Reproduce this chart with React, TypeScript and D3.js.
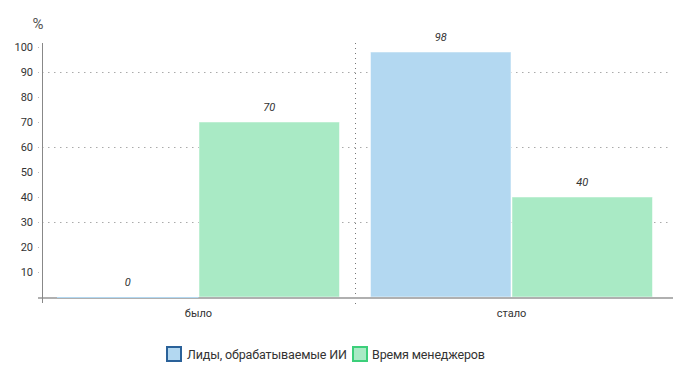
import React from "react";
import * as d3 from "d3";

const categories = ["было", "стало"];
const seriesNames = ["Лиды, обрабатываемые ИИ", "Время менеджеров"];
const leadsAI = [0, 98];
const managerTime = [70, 40];
const yTicks = [10, 20, 30, 40, 50, 60, 70, 80, 90, 100];
const gridTicks = [30, 60, 90];
const yUnit = "%";

const fills = ["#b3d8f1", "#a9eac5"];
const strokes = ["#2a6199", "#3ccf7a"];

export default function App() {
  const W = 700, H = 372;
  const left = 42, right = 668, top = 47, bottom = 297;
  const x0 = d3.scaleBand<string>().domain(categories).range([left, right]);
  const x1 = d3.scaleBand<string>().domain(seriesNames).range([15, x0.bandwidth() - 15]);
  const y = d3.scaleLinear().domain([0, 100]).range([bottom, top]);
  const values = [leadsAI, managerTime];
  const font = "Roboto, 'Noto Sans', sans-serif";

  return (
    <svg width={W} height={H} style={{ position: "absolute", left: 0, top: 0, background: "#fff" }} fontFamily={font}>
      {gridTicks.map((t) => (
        <line key={"g" + t} x1={left} x2={right} y1={Math.round(y(t)) + 0.5} y2={Math.round(y(t)) + 0.5}
          stroke="#aaa" strokeWidth={1} strokeDasharray="1.5,4.5" />
      ))}
      <line x1={x0("стало")! + 0.5} x2={x0("стало")! + 0.5} y1={top - 4} y2={bottom + 8}
        stroke="#777" strokeWidth={1} strokeDasharray="1,4" />
      {categories.map((c, ci) =>
        seriesNames.map((s, si) => {
          const v = values[si][ci];
          const bx = x0(c)! + x1(s)!;
          const bw = x1.bandwidth();
          return (
            <g key={c + s}>
              <rect x={bx + 0.5} y={y(v)} width={bw - 1} height={Math.max(0, bottom - y(v))}
                fill={fills[si]} stroke="#fff" strokeOpacity={0.5} strokeWidth={1} />
              <text x={bx + bw / 2} y={y(v) - 11} textAnchor="middle" fontSize={11}
                fontStyle="italic" fill="#333">{v}</text>
            </g>
          );
        })
      )}
      <line x1={left - 4} x2={right + 5} y1={bottom + 1} y2={bottom + 1} stroke="#b0b0b0" strokeWidth={2} />
      {zeroLine(x0, x1, bottom)}
      <line x1={left + 0.5} x2={left + 0.5} y1={top - 4} y2={bottom + 6} stroke="#888" strokeWidth={1} />
      {yTicks.map((t) => (
        <g key={"t" + t}>
          <rect x={left - 4} y={y(t)} width={1} height={1} fill="#bbb" />
          <text x={33} y={y(t) + 4} textAnchor="end" fontSize={11} fill="#333">{t}</text>
        </g>
      ))}
      <text x={38} y={29} textAnchor="middle" fontSize={15} fill="#555">{yUnit}</text>
      {categories.map((c) => (
        <text key={"c" + c} x={x0(c)! + x0.bandwidth() / 2} y={317} textAnchor="middle" fontSize={11} fill="#333">{c}</text>
      ))}
      <g>
        <rect x={167} y={347} width={14} height={14} fill={fills[0]} stroke={strokes[0]} strokeWidth={2} />
        <text x={187} y={359} fontSize={12.5} fill="#333" textLength={160} lengthAdjust="spacing">{seriesNames[0]}</text>
        <rect x={353} y={347} width={14} height={14} fill={fills[1]} stroke={strokes[1]} strokeWidth={2} />
        <text x={372} y={359} fontSize={12.5} fill="#333" textLength={113} lengthAdjust="spacing">{seriesNames[1]}</text>
      </g>
    </svg>
  );
}

function zeroLine(x0: any, x1: any, bottom: number) {
  return categories.map((c, ci) =>
    seriesNames.map((s, si) => {
      const v = [leadsAI, managerTime][si][ci];
      if (v !== 0) return null;
      return (
        <line key={"z" + c + s} x1={x0(c) + x1(s)} x2={x0(c) + x1(s) + x1.bandwidth()}
          y1={bottom + 0.5} y2={bottom + 0.5} stroke={fills[si]} strokeWidth={1} />
      );
    })
  );
}
